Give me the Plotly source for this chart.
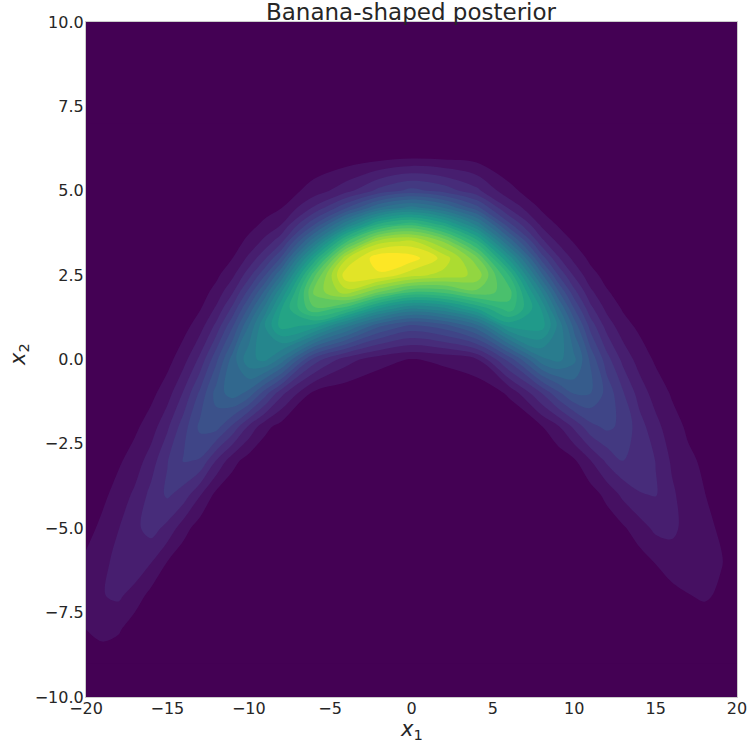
import numpy as np
import plotly.graph_objects as go

x1_grid = [-20, -19, -18, -17, -16, -15, -14, -13, -12, -11, -10, -9, -8,
           -6, -4, -2, 0, 2, 4, 6,
           8, 9, 10, 11, 12, 13, 14, 15, 16, 17, 18, 19, 20]
x2_grid = [-9, -8, -7, -6, -5, -4, -3, -2, -1, 0, 1, 1.5, 2, 2.5, 3, 3.5, 4, 4.5, 5, 6, 7]

# Relative posterior density, one list per x1 column (values at x2_grid rows)
density_by_column = [
    [0.004, 0.040, 0.064, 0.048, 0.025, 0.009, 0.002, 0, 0, 0, 0, 0, 0, 0, 0, 0, 0, 0, 0, 0, 0],          # -20
    [0.015, 0.054, 0.078, 0.069, 0.050, 0.030, 0.015, 0.006, 0.002, 0, 0, 0, 0, 0, 0, 0, 0, 0, 0, 0, 0],  # -19
    [0.012, 0.045, 0.087, 0.093, 0.079, 0.056, 0.034, 0.017, 0.007, 0.003, 0.001, 0, 0, 0, 0, 0, 0, 0, 0, 0, 0],  # -18
    [0.002, 0.017, 0.062, 0.111, 0.110, 0.088, 0.058, 0.032, 0.015, 0.006, 0.002, 0.001, 0, 0, 0, 0, 0, 0, 0, 0, 0],  # -17
    [0, 0.004, 0.026, 0.082, 0.136, 0.132, 0.100, 0.060, 0.029, 0.011, 0.003, 0.002, 0.001, 0, 0, 0, 0, 0, 0, 0, 0],  # -16
    [0, 0.001, 0.008, 0.039, 0.108, 0.167, 0.158, 0.113, 0.062, 0.026, 0.008, 0.004, 0.002, 0.001, 0, 0, 0, 0, 0, 0, 0],  # -15
    [0, 0, 0.001, 0.012, 0.056, 0.143, 0.204, 0.183, 0.125, 0.065, 0.025, 0.015, 0.008, 0.004, 0.002, 0.001, 0, 0, 0, 0, 0],  # -14
    [0, 0, 0, 0.002, 0.019, 0.084, 0.196, 0.250, 0.209, 0.130, 0.061, 0.037, 0.021, 0.011, 0.005, 0.002, 0.001, 0, 0, 0, 0],  # -13
    [0, 0, 0, 0, 0.004, 0.029, 0.118, 0.256, 0.296, 0.230, 0.131, 0.087, 0.054, 0.031, 0.016, 0.008, 0.004, 0.001, 0.001, 0, 0],  # -12
    [0, 0, 0, 0, 0.001, 0.008, 0.055, 0.190, 0.342, 0.339, 0.234, 0.171, 0.115, 0.071, 0.040, 0.021, 0.010, 0.004, 0.002, 0, 0],  # -11
    [0, 0, 0, 0, 0, 0.002, 0.021, 0.111, 0.307, 0.430, 0.361, 0.290, 0.214, 0.144, 0.089, 0.050, 0.026, 0.012, 0.005, 0.001, 0],  # -10
    [0, 0, 0, 0, 0, 0, 0.006, 0.052, 0.218, 0.450, 0.481, 0.419, 0.332, 0.238, 0.155, 0.092, 0.049, 0.024, 0.010, 0.001, 0],  # -9
    [0, 0, 0, 0, 0, 0, 0.002, 0.023, 0.132, 0.387, 0.578, 0.559, 0.479, 0.366, 0.248, 0.149, 0.080, 0.038, 0.016, 0.002, 0],  # -8
    [0, 0, 0, 0, 0, 0, 0, 0.002, 0.029, 0.183, 0.548, 0.713, 0.769, 0.708, 0.565, 0.393, 0.237, 0.125, 0.057, 0.008, 0.001],  # -6
    [0, 0, 0, 0, 0, 0, 0, 0.001, 0.012, 0.097, 0.414, 0.654, 0.862, 0.950, 0.875, 0.674, 0.435, 0.235, 0.106, 0.013, 0.001],  # -4
    [0, 0, 0, 0, 0, 0, 0, 0, 0.005, 0.055, 0.289, 0.513, 0.762, 0.951, 0.994, 0.861, 0.612, 0.359, 0.173, 0.022, 0.001],  # -2
    [0, 0, 0, 0, 0, 0, 0, 0, 0.003, 0.037, 0.230, 0.433, 0.682, 0.895, 0.980, 0.891, 0.670, 0.416, 0.214, 0.032, 0.002],  # 0
    [0, 0, 0, 0, 0, 0, 0, 0, 0.005, 0.049, 0.262, 0.466, 0.693, 0.865, 0.905, 0.794, 0.583, 0.359, 0.185, 0.029, 0.002],  # 2
    [0, 0, 0, 0, 0, 0, 0, 0, 0.008, 0.075, 0.346, 0.559, 0.749, 0.830, 0.774, 0.622, 0.431, 0.256, 0.131, 0.022, 0.002],  # 4
    [0, 0, 0, 0, 0, 0, 0, 0.005, 0.046, 0.215, 0.533, 0.662, 0.699, 0.638, 0.508, 0.351, 0.212, 0.112, 0.051, 0.007, 0.001],  # 6
    [0, 0, 0, 0, 0, 0, 0.005, 0.037, 0.160, 0.389, 0.539, 0.517, 0.441, 0.332, 0.223, 0.132, 0.070, 0.032, 0.013, 0.002, 0],  # 8
    [0, 0, 0, 0, 0, 0.001, 0.014, 0.073, 0.229, 0.412, 0.432, 0.374, 0.290, 0.202, 0.127, 0.072, 0.036, 0.016, 0.007, 0.001, 0],  # 9
    [0, 0, 0, 0, 0, 0.005, 0.034, 0.128, 0.284, 0.370, 0.306, 0.241, 0.173, 0.113, 0.067, 0.036, 0.018, 0.008, 0.003, 0, 0],  # 10
    [0, 0, 0, 0, 0.003, 0.021, 0.079, 0.187, 0.281, 0.271, 0.184, 0.133, 0.089, 0.054, 0.030, 0.016, 0.007, 0.003, 0.001, 0, 0],  # 11
    [0, 0, 0, 0.002, 0.014, 0.052, 0.128, 0.209, 0.227, 0.177, 0.103, 0.070, 0.044, 0.026, 0.014, 0.007, 0.003, 0.001, 0.001, 0, 0],  # 12
    [0, 0, 0.001, 0.009, 0.034, 0.090, 0.160, 0.190, 0.164, 0.108, 0.055, 0.036, 0.022, 0.012, 0.007, 0.003, 0.002, 0.001, 0, 0, 0],  # 13
    [0, 0.001, 0.005, 0.022, 0.062, 0.117, 0.150, 0.138, 0.103, 0.063, 0.031, 0.020, 0.012, 0.007, 0.004, 0.002, 0.001, 0, 0, 0, 0],  # 14
    [0, 0.003, 0.013, 0.042, 0.089, 0.123, 0.119, 0.094, 0.062, 0.034, 0.015, 0.010, 0.006, 0.003, 0.002, 0.001, 0, 0, 0, 0, 0],  # 15
    [0.001, 0.007, 0.026, 0.061, 0.089, 0.087, 0.074, 0.055, 0.036, 0.021, 0.011, 0.007, 0.005, 0.003, 0.002, 0.001, 0.001, 0, 0, 0, 0],  # 16
    [0.002, 0.011, 0.038, 0.066, 0.066, 0.059, 0.047, 0.034, 0.022, 0.013, 0.007, 0.005, 0.004, 0.002, 0.001, 0, 0, 0, 0, 0, 0],  # 17
    [0.001, 0.012, 0.046, 0.051, 0.048, 0.041, 0.034, 0.026, 0.018, 0.012, 0.008, 0.006, 0.004, 0.003, 0.002, 0.001, 0.001, 0, 0, 0, 0],  # 18
    [0.001, 0.008, 0.033, 0.043, 0.036, 0.026, 0.018, 0.012, 0.008, 0.005, 0.003, 0.002, 0.002, 0.001, 0.001, 0, 0, 0, 0, 0, 0],  # 19
    [0.001, 0.005, 0.015, 0.020, 0.018, 0.013, 0.009, 0.006, 0.004, 0.002, 0.001, 0, 0, 0, 0, 0, 0, 0, 0, 0, 0],  # 20
]

x_tick_vals = [-20, -15, -10, -5, 0, 5, 10, 15, 20]
x_tick_text = ["\u221220", "\u221215", "\u221210", "\u22125", "0", "5", "10", "15", "20"]
y_tick_vals = [-10, -7.5, -5, -2.5, 0, 2.5, 5, 7.5, 10]
y_tick_text = ["\u221210.0", "\u22127.5", "\u22125.0", "\u22122.5", "0.0", "2.5", "5.0", "7.5", "10.0"]

title_text = "Banana-shaped posterior"
x_label = "<i>x</i><sub>1</sub>"
y_label = "<i>x</i><sub>2</sub>"

z = np.array(density_by_column).T  # rows follow x2_grid, columns follow x1_grid

fig = go.Figure(
    go.Contour(
        x=x1_grid,
        y=x2_grid,
        z=z,
        colorscale="Viridis",
        contours=dict(start=0.04, end=0.96, size=0.04, coloring="fill", showlines=False),
        line=dict(width=0, smoothing=1),
        showscale=False,
        hoverinfo="skip",
    )
)

text_color = "#262626"
W, H = 748, 745
L, R, T, B = 86, 11, 22, 48
plot_w, plot_h = W - L - R, H - T - B

fig.update_layout(
    width=W,
    height=H,
    margin=dict(l=L, r=R, t=T, b=B, autoexpand=False),
    paper_bgcolor="white",
    plot_bgcolor="#440154",
    font=dict(family="DejaVu Sans", color=text_color, size=16),
    showlegend=False,
    annotations=[
        dict(text=title_text, xref="paper", yref="paper", x=0.5, y=1 + (T - 12) / plot_h,
             xanchor="center", yanchor="middle", showarrow=False,
             font=dict(family="DejaVu Sans", size=23, color=text_color)),
        dict(text=x_label, xref="paper", yref="paper", x=0.5, y=-(730 - (H - B)) / plot_h,
             xanchor="center", yanchor="middle", showarrow=False,
             font=dict(family="DejaVu Sans", size=21, color=text_color)),
        dict(text=y_label, xref="paper", yref="paper", x=(19 - L) / plot_w, y=(H - B - 355) / plot_h,
             xanchor="center", yanchor="middle", showarrow=False, textangle=-90,
             font=dict(family="DejaVu Sans", size=21, color=text_color)),
    ],
)
fig.update_xaxes(
    range=[-20, 20], automargin=False,
    tickvals=x_tick_vals, ticktext=x_tick_text,
    ticks="", showgrid=False, zeroline=False, ticklabelstandoff=-3,
    showline=True, linecolor="#cccccc", linewidth=1.25, mirror=True,
    tickfont=dict(size=16, color=text_color),
)
fig.update_yaxes(
    range=[-10, 10], automargin=False,
    tickvals=y_tick_vals, ticktext=y_tick_text,
    ticks="", showgrid=False, zeroline=False, ticklabelstandoff=-2,
    showline=True, linecolor="#cccccc", linewidth=1.25, mirror=True,
    tickfont=dict(size=16, color=text_color),
)

# remove the page's default body margin so the figure fills the window exactly
fig.write_html(
    "out.html",
    config={"displayModeBar": False},
    post_script="document.body.style.margin='0';document.body.style.overflow='hidden';",
)
